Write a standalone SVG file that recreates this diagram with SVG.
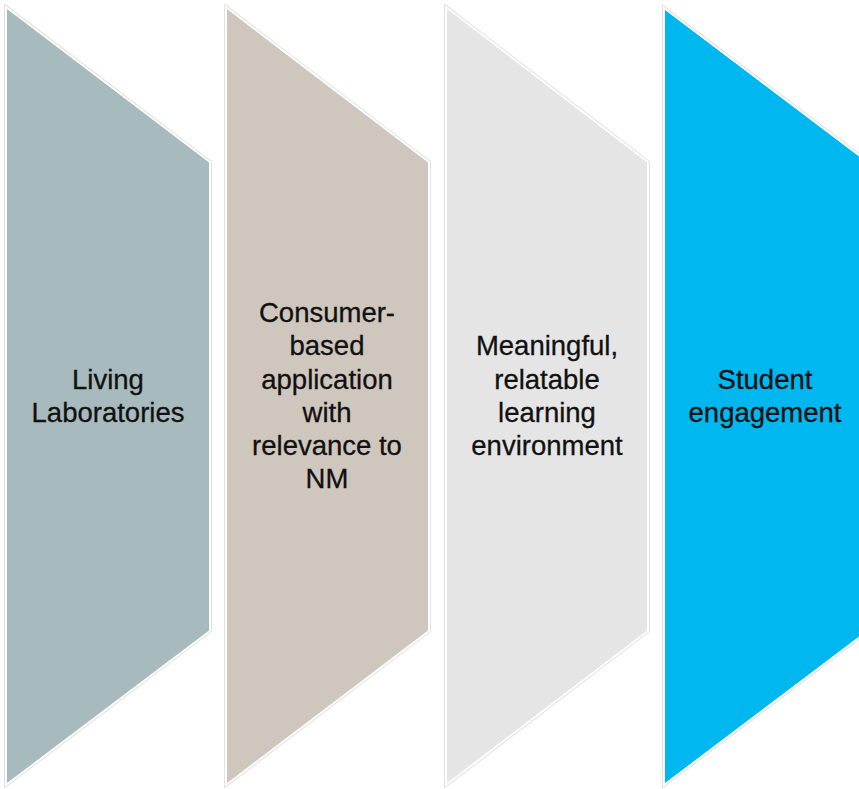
<svg xmlns="http://www.w3.org/2000/svg" width="859" height="789" viewBox="0 0 859 789">
<style>
.sh{stroke:#ffffff;stroke-width:2;stroke-linejoin:miter}
.ol{fill:none;stroke:#d8d8d8;stroke-width:3.5}
.t{font-family:"Liberation Sans",Arial,sans-serif;font-size:27.5px;fill:#111111;text-anchor:middle;stroke:#111111;stroke-width:0.3}
</style>
<rect width="859" height="789" fill="#ffffff"/>
<g id="node1">
<polygon class="ol" points="6,7 210,162 210,631 6,785"/>
<polygon class="sh" fill="#A7BABD" points="6,7 210,162 210,631 6,785"/>
<text class="t" x="108" y="389">Living</text>
<text class="t" x="108" y="422">Laboratories</text>
</g>
<g id="node2">
<polygon class="ol" points="226,7 429,162 429,631 226,785"/>
<polygon class="sh" fill="#CFC6BD" points="226,7 429,162 429,631 226,785"/>
<text class="t" x="327" y="322">Consumer-</text>
<text class="t" x="327" y="355">based</text>
<text class="t" x="327" y="389">application</text>
<text class="t" x="327" y="422">with</text>
<text class="t" x="327" y="455">relevance to</text>
<text class="t" x="327" y="488">NM</text>
</g>
<g id="node3">
<polygon class="ol" points="446,7 648,162 648,631 446,785"/>
<polygon class="sh" fill="#E5E5E5" points="446,7 648,162 648,631 446,785"/>
<text class="t" x="547" y="355">Meaningful,</text>
<text class="t" x="547" y="389">relatable</text>
<text class="t" x="547" y="422">learning</text>
<text class="t" x="547" y="455">environment</text>
</g>
<g id="node4">
<polygon class="ol" points="664,8 868,162 868,631 664,785"/>
<polygon class="sh" fill="#00B7EF" points="664,8 868,162 868,631 664,785"/>
<text class="t" x="765" y="389">Student</text>
<text class="t" x="765" y="422">engagement</text>
</g>
<g id="connectors"></g>
</svg>
